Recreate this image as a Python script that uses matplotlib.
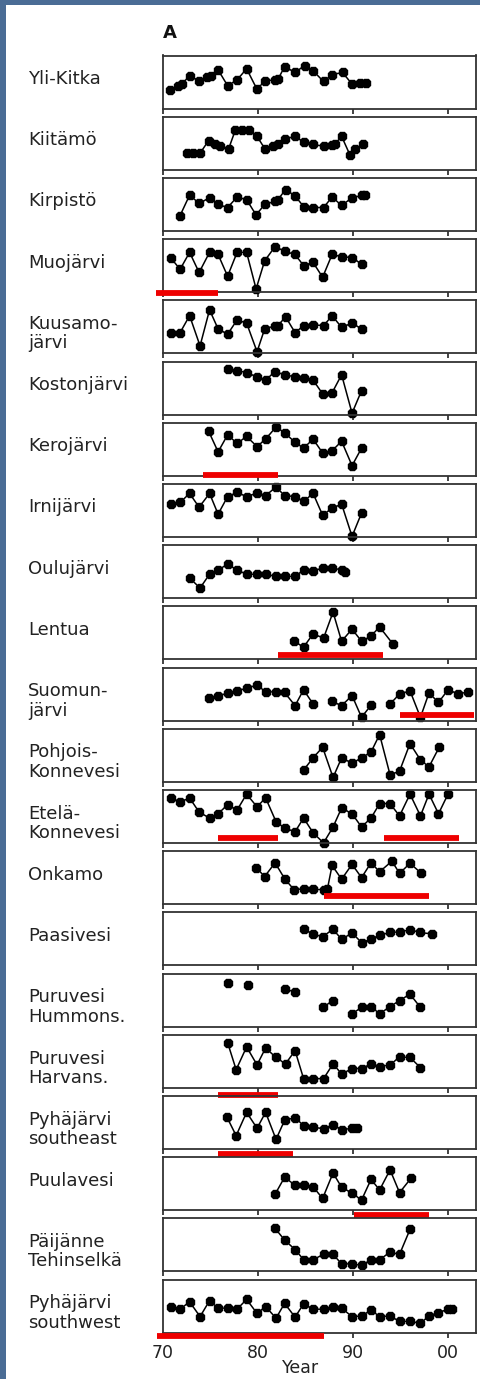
import matplotlib.pyplot as plt
import numpy as np
from matplotlib.patches import Rectangle
from matplotlib.transforms import blended_transform_factory

nan = np.nan

# lake names, top to bottom
lakes = ["Yli-Kitka", "Kiitämö", "Kirpistö", "Muojärvi", "Kuusamo-\njärvi",
         "Kostonjärvi", "Kerojärvi", "Irnijärvi", "Oulujärvi", "Lentua",
         "Suomun-\njärvi", "Pohjois-\nKonnevesi", "Etelä-\nKonnevesi", "Onkamo",
         "Paasivesi", "Puruvesi\nHummons.", "Puruvesi\nHarvans.",
         "Pyhäjärvi\nsoutheast", "Puulavesi", "Päijänne\nTehinselkä",
         "Pyhäjärvi\nsouthwest"]

# relative values (0 = bottom of panel, 10 = top)
yli_kitka_yr = [70.7, 71.6, 72.0, 72.8, 73.8, 74.6, 75.1, 75.8, 76.8, 77.8, 78.8, 79.9, 80.7,
                81.8, 82.1, 82.8, 83.9, 84.9, 85.8, 86.9, 87.8, 88.9, 89.9, 90.7, 91.4]
yli_kitka_v = [3.4, 4.3, 4.6, 6.2, 5.2, 5.9, 6.2, 7.3, 4.3, 5.4, 7.5, 3.6, 5.2,
               5.4, 5.5, 7.9, 6.8, 8.1, 7.1, 5.1, 6.4, 6.8, 4.6, 4.8, 4.8]

kiitamo_yr = [72.5, 73.2, 73.9, 74.8, 75.5, 76.0, 76.9, 77.6, 78.3, 79.0, 79.9, 80.7, 81.6,
              82.1, 82.8, 83.9, 84.8, 85.8, 86.9, 87.8, 88.1, 88.8, 89.7, 90.2, 91.1]
kiitamo_v = [3.1, 3.1, 3.1, 5.5, 4.8, 4.5, 3.9, 7.4, 7.4, 7.4, 6.3, 4.0, 4.5,
             4.8, 5.8, 6.3, 5.2, 4.8, 4.4, 4.6, 4.8, 6.3, 2.7, 3.9, 4.8]

kirpisto_yr = [71.8, 72.8, 73.8, 74.9, 75.8, 76.8, 77.8, 78.8, 79.8, 80.7, 81.8, 82.1, 82.9,
               83.9, 84.8, 85.8, 86.9, 87.8, 88.8, 89.9, 90.9, 91.3]
kirpisto_v = [2.9, 6.75, 5.2, 6.25, 5.0, 4.4, 6.4, 5.9, 3.0, 5.0, 5.6, 5.9, 7.8,
              6.6, 4.6, 4.4, 4.4, 6.4, 4.8, 6.25, 6.7, 6.7]

muojarvi_yr = [70.8, 71.8, 72.8, 73.8, 74.9, 75.8, 76.8, 77.8, 78.8, 79.8, 80.7, 81.8, 82.8,
               83.9, 84.8, 85.8, 86.8, 87.8, 88.8, 89.9, 90.9]
muojarvi_v = [6.5, 4.3, 7.5, 3.7, 7.5, 7.1, 3.0, 7.5, 7.5, 0.6, 5.9, 8.6, 7.7,
              7.1, 5.0, 5.6, 2.8, 7.1, 6.7, 6.5, 5.3]

kuusamo_yr = [70.8, 71.8, 72.8, 73.9, 74.9, 75.8, 76.8, 77.8, 78.8, 79.9, 80.7, 81.8, 82.1,
              82.9, 83.9, 84.8, 85.8, 86.9, 87.8, 88.8, 89.9, 90.9]
kuusamo_v = [3.8, 3.9, 7.1, 1.4, 8.2, 4.6, 3.6, 6.3, 5.7, 0.3, 4.6, 5.2, 5.2,
             6.9, 3.9, 5.2, 5.4, 5.2, 7.1, 4.9, 5.7, 4.6]

koston_yr = [76.8, 77.8, 78.8, 79.9, 80.8, 81.8, 82.8, 83.9, 84.8, 85.8, 86.8, 87.8, 88.8,
             89.9, 90.9]
koston_v = [8.5, 8.3, 7.9, 7.1, 6.5, 8.1, 7.5, 7.1, 6.8, 6.5, 3.9, 4.1, 7.5, 0.25, 4.5]

kero_yr = [74.8, 75.8, 76.8, 77.8, 78.8, 79.9, 80.8, 81.9, 82.8, 83.9, 84.8, 85.8, 86.8,
           87.8, 88.8, 89.9, 90.9]
kero_v = [8.4, 4.5, 7.7, 6.1, 7.4, 5.5, 6.9, 9.2, 8.1, 6.3, 5.2, 6.9, 4.3, 4.7, 6.5, 1.9, 5.2]

irni_yr = [70.8, 71.8, 72.8, 73.8, 74.9, 75.8, 76.8, 77.8, 78.8, 79.9, 80.8, 81.9, 82.8,
           83.9, 84.8, 85.8, 86.8, 87.8, 88.8, 89.9, 90.9]
irni_v = [6.2, 6.5, 8.2, 5.6, 8.2, 4.3, 7.6, 8.4, 7.6, 8.3, 7.8, 9.4, 7.8,
          7.6, 6.7, 8.2, 4.1, 5.4, 6.2, 0.1, 4.5]

oulu_yr = [72.8, 73.9, 74.9, 75.8, 76.8, 77.8, 78.8, 79.9, 80.8, 81.9, 82.8, 83.9, 84.8,
           85.8, 86.8, 87.8, 88.8, 89.2]
oulu_v = [3.8, 1.9, 4.5, 5.3, 6.4, 5.3, 4.5, 4.5, 4.5, 4.1, 4.1, 4.1, 5.3, 5.1, 5.7, 5.7, 5.3, 4.9]

lentua_yr = [83.8, 84.8, 85.8, 86.9, 87.9, 88.8, 89.9, 90.9, 91.9, 92.8, 94.2]
lentua_v = [3.4, 2.3, 4.8, 4.0, 8.9, 3.4, 5.7, 3.4, 4.4, 6.1, 2.9]

suomun_yr = [74.8, 75.8, 76.8, 77.8, 78.8, 79.9, 80.8, 81.9, 82.8, 83.9, 84.8, 85.8, 86.8,
             87.8, 88.8, 89.9, 90.9, 91.9, 92.9, 93.9, 94.9, 96.0, 97.1, 98.0, 99.0,
             100.0, 101.1, 102.1]
suomun_v = [4.2, 4.6, 5.2, 5.6, 6.1, 6.7, 5.4, 5.4, 5.3, 2.8, 5.8, 3.1, nan,
            3.6, 2.8, 4.7, 0.6, 2.9, nan, 3.1, 5.0, 5.6, 0.6, 5.2, 3.4,
            5.8, 5.0, 5.4]

pohjois_yr = [84.8, 85.8, 86.8, 87.9, 88.8, 89.9, 90.9, 91.9, 92.8, 93.9, 94.9, 96.0, 97.1,
              98.0, 99.1]
pohjois_v = [2.2, 4.5, 6.5, 0.8, 4.5, 3.5, 4.5, 5.6, 8.9, 1.3, 2.0, 7.2, 4.1, 2.8, 6.6]

etela_yr = [70.8, 71.8, 72.8, 73.8, 74.9, 75.8, 76.8, 77.8, 78.8, 79.9, 80.8, 81.9, 82.8,
            83.9, 84.8, 85.8, 86.9, 87.9, 88.8, 89.9, 90.9, 91.9, 92.8, 93.9, 94.9,
            96.0, 97.1, 98.0, 99.0, 100.0]
etela_v = [8.5, 7.7, 8.5, 5.8, 4.7, 5.5, 7.2, 6.2, 9.2, 6.8, 8.5, 4.0, 2.8,
           2.1, 4.7, 1.9, 0.0, 3.0, 6.6, 5.5, 3.0, 4.7, 7.4, 7.4, 5.1,
           9.2, 5.1, 9.2, 5.5, 9.2]

onkamo_yr = [79.8, 80.7, 81.8, 82.8, 83.8, 84.8, 85.8, 86.9, 87.3, 87.8, 88.8, 89.9, 90.9,
             91.9, 92.8, 94.1, 94.9, 96.0, 97.2]
onkamo_v = [6.9, 5.2, 7.8, 4.8, 2.7, 2.9, 2.8, 2.7, 2.8, 7.3, 4.7, 7.5, 5.0,
            7.8, 6.1, 8.1, 5.8, 7.7, 5.8]

paasi_yr = [84.8, 85.8, 86.8, 87.9, 88.8, 89.9, 90.9, 91.9, 92.8, 93.9, 94.9, 96.0, 97.1, 98.3]
paasi_v = [6.8, 5.9, 5.4, 6.8, 4.9, 6.1, 4.3, 4.9, 5.7, 6.2, 6.3, 6.7, 6.2, 5.9]

hummons_yr = [76.8, 77.8, 78.9, 80.0, 82.8, 83.9, 85.0, 86.8, 87.9, 89.0, 89.9, 90.9, 91.9,
              92.8, 93.9, 94.9, 96.0, 97.1]
hummons_v = [8.25, nan, 7.8, nan, 7.0, 6.6, nan, 3.6, 4.9, nan, 2.4, 3.6, 3.75,
             2.4, 3.75, 4.9, 6.1, 3.6]

harvans_yr = [76.8, 77.7, 78.8, 79.9, 80.8, 81.9, 82.9, 83.9, 84.8, 85.8, 86.9, 87.9, 88.8,
              89.9, 90.9, 91.9, 92.8, 93.9, 94.9, 96.0, 97.1]
harvans_v = [8.5, 3.4, 7.7, 4.3, 7.5, 5.7, 4.5, 7.0, 1.7, 1.7, 1.7, 4.5, 2.6,
             3.6, 3.6, 4.5, 4.0, 4.3, 5.8, 5.7, 3.8]

pyha_se_yr = [76.7, 77.7, 78.8, 79.9, 80.8, 81.9, 82.8, 83.9, 84.8, 85.8, 86.9, 87.9, 88.8,
              89.9, 90.4]
pyha_se_v = [6.1, 2.5, 6.9, 3.9, 6.9, 1.8, 5.4, 5.9, 4.4, 4.1, 3.8, 4.6, 3.6, 3.9, 3.9]

puula_yr = [81.8, 82.8, 83.9, 84.8, 85.8, 86.8, 87.9, 88.8, 89.9, 90.9, 91.9, 92.8, 93.9,
            94.9, 96.1]
puula_v = [3.0, 6.2, 4.7, 4.7, 4.4, 2.2, 7.0, 4.3, 3.2, 1.9, 5.8, 3.8, 7.6, 3.3, 6.0]

paijanne_yr = [81.8, 82.8, 83.9, 84.8, 85.8, 86.9, 87.9, 88.8, 89.9, 90.9, 91.9, 92.8, 93.9,
               94.9, 96.0]
paijanne_v = [8.1, 5.9, 4.1, 2.2, 2.2, 3.2, 3.2, 1.4, 1.4, 1.1, 2.2, 2.2, 3.6, 3.2, 7.9]

pyha_sw_yr = [70.8, 71.8, 72.8, 73.9, 74.9, 75.8, 76.8, 77.8, 78.8, 79.9, 80.8, 81.9, 82.8,
              83.9, 84.8, 85.8, 86.9, 87.9, 88.8, 89.9, 90.9, 91.9, 92.8, 93.9, 94.9,
              96.0, 97.1, 98.0, 99.0, 100.0, 100.4]
pyha_sw_v = [4.9, 4.4, 5.8, 3.0, 6.0, 4.6, 4.6, 4.4, 6.25, 3.6, 4.9, 2.7, 5.5,
             2.9, 5.4, 4.4, 4.4, 4.9, 4.6, 3.0, 3.1, 4.25, 3.0, 3.1, 2.1,
             2.1, 1.75, 3.1, 3.75, 4.4, 4.5]

series = [(yli_kitka_yr, yli_kitka_v), (kiitamo_yr, kiitamo_v), (kirpisto_yr, kirpisto_v),
          (muojarvi_yr, muojarvi_v), (kuusamo_yr, kuusamo_v), (koston_yr, koston_v),
          (kero_yr, kero_v), (irni_yr, irni_v), (oulu_yr, oulu_v), (lentua_yr, lentua_v),
          (suomun_yr, suomun_v), (pohjois_yr, pohjois_v), (etela_yr, etela_v),
          (onkamo_yr, onkamo_v), (paasi_yr, paasi_v), (hummons_yr, hummons_v),
          (harvans_yr, harvans_v), (pyha_se_yr, pyha_se_v), (puula_yr, puula_v),
          (paijanne_yr, paijanne_v), (pyha_sw_yr, pyha_sw_v)]

# red period bars: panel index, start year, end year
bar_panel = [3, 6, 9, 10, 12, 12, 13, 16, 17, 18, 20]
bar_start = [69.3, 74.2, 82.1, 94.9, 75.75, 93.3, 86.9, 75.75, 75.75, 90.1, 69.4]
bar_end = [75.8, 82.1, 93.2, 102.7, 82.1, 101.2, 98.0, 82.1, 83.7, 98.0, 86.9]
bar_shift_px = [1, -1, -4, -6, -5, -5, -8, 7, 5, 5, 3]  # layout: + = below spine

tick_years = [70, 80, 90, 100]
tick_labels = ["70", "80", "90", "00"]

# layout #####################################################
W, H = 481, 1379
left, right = 163, 476
top0, pitch, ph = 55.5, 61.2, 53

fig = plt.figure(figsize=(W / 100, H / 100), dpi=100, facecolor="#4a6c95")
fig.add_artist(Rectangle((6 / W, 0), 1, 1 - 5 / H, transform=fig.transFigure,
                         facecolor="white", edgecolor="none", zorder=-5))

fig.text(left / W, 1 - 33 / H, "A", fontsize=13, fontweight="bold", va="center",
         ha="left", color="#111111")

axes = []
for i, (name, (yr, v)) in enumerate(zip(lakes, series)):
    top = top0 + pitch * i
    ax = fig.add_axes([left / W, 1 - (top + ph) / H, (right - left) / W, ph / H])
    ax.plot(yr, v, color="black", lw=1.1, marker="8", markersize=6.5, clip_on=False)
    ax.set_xlim(70, 70 + (right - left) / 9.5)
    ax.set_ylim(0, 10)
    ax.set_yticks([])
    ax.set_xticks(tick_years)
    ax.tick_params(axis="x", direction="out", length=3.5, width=1.2, pad=5,
                   labelsize=12.5, colors="#222222")
    if i < len(lakes) - 1:
        ax.set_xticklabels([])
    else:
        ax.set_xticklabels(tick_labels)
        ax.set_xlabel("Year", fontsize=12.5, color="#222222")
        ax.xaxis.set_label_coords(0.44, -0.5)
    for s in ax.spines.values():
        s.set_linewidth(1.3)
        s.set_color("#333333")
    ax.patch.set_alpha(0)

    yc = top + ph / 2 + (7 if "\n" in name else -3)
    fig.text(28 / W, 1 - yc / H, name, fontsize=13, va="center", ha="left",
             linespacing=1.1, color="#222222")
    axes.append(ax)

for p, x0, x1, dy in zip(bar_panel, bar_start, bar_end, bar_shift_px):
    ax = axes[p]
    tr = blended_transform_factory(ax.transData, ax.transAxes)
    ax.plot([x0, x1], [-dy / ph, -dy / ph], transform=tr, color="#ee0000", lw=4.2,
            solid_capstyle="butt", clip_on=False, zorder=5)

fig.savefig("out.png", dpi=100, facecolor=fig.get_facecolor())
